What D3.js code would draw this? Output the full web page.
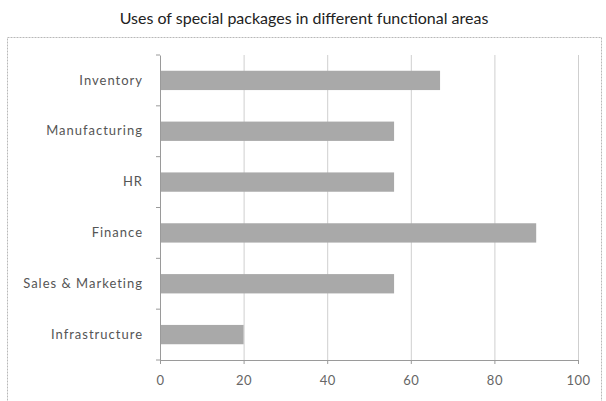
<!DOCTYPE html>
<html>
<head>
<meta charset="utf-8">
<script src="https://cdn.jsdelivr.net/npm/d3@7"></script>
<style>
  body { margin: 0; background: #fff; }
  text { font-family: Lato, "Open Sans", sans-serif; }
</style>
</head>
<body>
<script>
// chart data
const categories = ["Inventory", "Manufacturing", "HR", "Finance", "Sales & Marketing", "Infrastructure"];
const values = [67, 56, 56, 90, 56, 20];
const xTicks = [0, 20, 40, 60, 80, 100];
const title = "Uses of special packages in different functional areas";

const width = 606, height = 401;
const plot = { left: 160, right: 578, top: 55, bottom: 360 };

const svg = d3.select("body").append("svg")
    .attr("width", width)
    .attr("height", height);

// outer chart border (dotted, like the scan)
svg.append("rect")
    .attr("x", 7.5).attr("y", 37.5)
    .attr("width", 594).attr("height", 372)
    .attr("fill", "none")
    .attr("stroke", "#b8b8b8")
    .attr("stroke-dasharray", "2,1");

svg.append("text")
    .attr("x", 304).attr("y", 24)
    .attr("text-anchor", "middle")
    .attr("font-size", 16)
    .attr("fill", "#222")
    .text(title);

const x = d3.scaleLinear().domain([0, 100]).range([plot.left, plot.right]);
const y = d3.scaleBand().domain(categories)
    .range([plot.top, plot.bottom])
    .paddingInner(0.62)
    .paddingOuter(0.31);

// gridlines
svg.append("g")
    .selectAll("line")
    .data(xTicks.slice(1))
    .join("line")
    .attr("x1", d => x(d) + 0.5).attr("x2", d => x(d) + 0.5)
    .attr("y1", plot.top).attr("y2", plot.bottom)
    .attr("stroke", "#cfcfcf");

// bars
svg.append("g")
    .selectAll("rect")
    .data(values)
    .join("rect")
    .attr("x", x(0) + 1)
    .attr("y", (d, i) => y(categories[i]))
    .attr("width", d => x(d) - x(0) - 1)
    .attr("height", y.bandwidth())
    .attr("fill", "#a9a9a9");

// bottom axis
const xAxis = svg.append("g")
    .attr("transform", `translate(0,${plot.bottom})`)
    .call(d3.axisBottom(x).tickValues(xTicks).tickSize(4).tickPadding(12));
xAxis.select(".domain").attr("stroke", "#9a9a9a");
xAxis.selectAll(".tick line").attr("stroke", "#9a9a9a");
xAxis.selectAll("text")
    .attr("font-size", 13)
    .attr("letter-spacing", 0.5)
    .attr("fill", "#666")
    .style("font-family", "Lato, sans-serif");

// left axis, labels only
const yAxis = svg.append("g")
    .attr("transform", `translate(${plot.left},0)`)
    .call(d3.axisLeft(y).tickSize(0).tickPadding(17));
yAxis.select(".domain").attr("stroke", "#9a9a9a");
yAxis.selectAll("text")
    .attr("font-size", 13)
    .attr("letter-spacing", 1)
    .attr("fill", "#555")
    .style("font-family", "Lato, sans-serif");

// small ticks at category boundaries
svg.append("g")
    .selectAll("line")
    .data(d3.range(categories.length + 1))
    .join("line")
    .attr("x1", plot.left - 4).attr("x2", plot.left)
    .attr("y1", i => plot.top + i * y.step())
    .attr("y2", i => plot.top + i * y.step())
    .attr("stroke", "#9a9a9a");
</script>
</body>
</html>
